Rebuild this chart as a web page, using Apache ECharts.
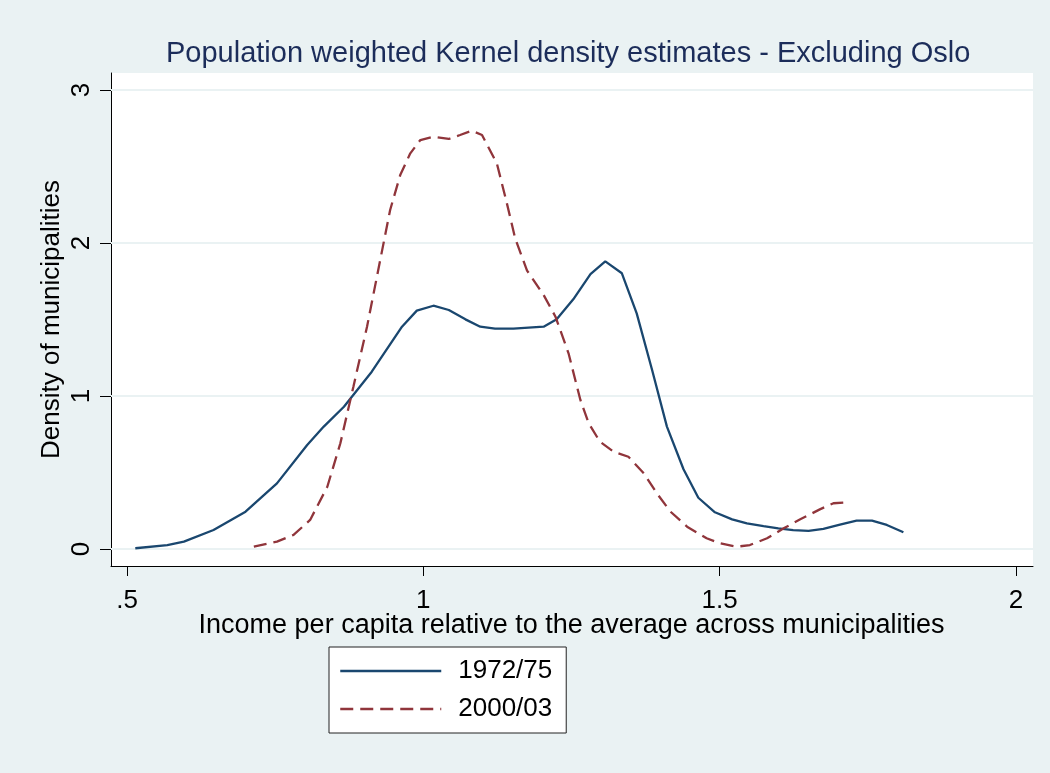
<!DOCTYPE html>
<html>
<head>
<meta charset="utf-8">
<script src="https://cdn.jsdelivr.net/npm/echarts@6/dist/echarts.min.js"></script>
<style>
  html, body { margin: 0; padding: 0; background: #eaf2f3; }
  #chart { width: 1050px; height: 773px; }
</style>
</head>
<body>
<div id="chart"></div>
<script>
// ---- data ----
const titleText = 'Population weighted Kernel density estimates - Excluding Oslo';
const xTitle = 'Income per capita relative to the average across municipalities';
const yTitle = 'Density of municipalities';
const seriesNames = ['1972/75', '2000/03'];

const xTicks = [0.5, 1, 1.5, 2];
const xTickLabels = ['.5', '1', '1.5', '2'];
const yTicks = [0, 1, 2, 3];
const yTickLabels = ['0', '1', '2', '3'];

const x1972 = [0.514,0.568,0.596,0.646,0.700,0.753,0.804,0.832,0.866,0.913,0.964,0.989,1.017,1.043,1.071,1.096,1.121,1.152,1.203,1.225,1.253,1.282,1.307,1.335,1.360,1.386,1.411,1.439,1.464,1.492,1.521,1.546,1.574,1.599,1.624,1.650,1.675,1.703,1.731,1.757,1.782,1.810];
const y1972 = [0.005,0.026,0.048,0.124,0.244,0.429,0.680,0.800,0.930,1.159,1.453,1.558,1.590,1.562,1.501,1.453,1.440,1.440,1.453,1.501,1.632,1.797,1.880,1.802,1.540,1.170,0.800,0.521,0.335,0.240,0.194,0.168,0.150,0.135,0.124,0.118,0.131,0.159,0.185,0.185,0.157,0.109];

const x2000 = [0.714,0.753,0.781,0.809,0.838,0.860,0.882,0.905,0.925,0.944,0.961,0.978,0.995,1.017,1.043,1.062,1.082,1.099,1.124,1.141,1.155,1.175,1.203,1.223,1.245,1.265,1.279,1.298,1.321,1.346,1.372,1.394,1.417,1.445,1.478,1.501,1.529,1.551,1.580,1.608,1.636,1.669,1.692,1.709];
const y2000 = [0.015,0.048,0.092,0.190,0.407,0.691,1.061,1.453,1.845,2.216,2.444,2.586,2.673,2.695,2.680,2.706,2.734,2.706,2.521,2.259,2.030,1.820,1.660,1.518,1.279,0.974,0.822,0.701,0.636,0.603,0.495,0.364,0.244,0.146,0.070,0.037,0.015,0.026,0.070,0.135,0.194,0.259,0.299,0.303];

// ---- layout ----
const W = 1050, H = 773;
const outer = { l: 111, r: 1033, t: 73, b: 566 };   // white plot region
const inner = { l: 127, r: 1016, t: 90, b: 549 };   // tick-aligned data region
const xMin = xTicks[0], xMax = xTicks[xTicks.length - 1];
const yMin = yTicks[0], yMax = yTicks[yTicks.length - 1];
const xPer = (inner.r - inner.l) / (xMax - xMin);
const yPer = (inner.b - inner.t) / (yMax - yMin);
const oxMin = xMin - (inner.l - outer.l) / xPer;
const oxMax = xMax + (outer.r - inner.r) / xPer;
const oyMin = yMin - (outer.b - inner.b) / yPer;
const oyMax = yMax + (inner.t - outer.t) / yPer;

const FONT = '"Liberation Sans", Arial, sans-serif';
const blue = '#1a476f', red = '#90353b';
const axisColor = '#000000';
const dash = [13, 7];

const chart = echarts.init(document.getElementById('chart'), null, { renderer: 'canvas' });

const option = {
  backgroundColor: '#eaf2f3',
  animation: false,
  textStyle: { fontFamily: FONT },
  title: {
    text: titleText,
    left: 166, top: 39,
    padding: 0,
    textStyle: { fontFamily: FONT, fontSize: 29, fontWeight: 'normal', color: '#1c2d5a' }
  },
  legend: {
    orient: 'vertical',
    left: 329, top: 647,
    data: [
      { name: seriesNames[0], itemStyle: { opacity: 0 }, lineStyle: { color: blue, width: 2.5, type: 'solid' } },
      { name: seriesNames[1], itemStyle: { opacity: 0 }, lineStyle: { color: red, width: 2.5, type: dash } }
    ],
    lineStyle: { width: 2.5 },
    backgroundColor: '#ffffff',
    borderColor: '#222222',
    borderWidth: 1,
    padding: [11, 14, 11, 10],
    itemWidth: 101,
    itemHeight: 14,
    itemGap: 12,
    textStyle: { fontFamily: FONT, fontSize: 26, color: '#000', padding: [0, 0, 0, 12] }
  },
  grid: [
    { left: outer.l, right: W - outer.r, top: outer.t, bottom: H - outer.b,
      show: true, backgroundColor: '#ffffff', borderWidth: 0 },
    { left: inner.l, right: W - inner.r, top: inner.t, bottom: H - inner.b,
      show: false }
  ],
  xAxis: [
    { gridIndex: 0, type: 'value', min: oxMin, max: oxMax,
      axisLine: { show: true, onZero: false, lineStyle: { color: axisColor, width: 1 } },
      axisTick: { show: false }, axisLabel: { show: false }, splitLine: { show: false } },
    { gridIndex: 1, type: 'value', min: xMin, max: xMax, interval: 0.5,
      offset: outer.b - inner.b,
      axisLine: { show: false, onZero: false },
      axisTick: { show: true, length: 10, lineStyle: { color: axisColor, width: 1 } },
      axisLabel: { show: true, margin: 22, fontSize: 26, color: '#000', fontFamily: FONT,
        formatter: v => { const i = xTicks.findIndex(t => Math.abs(t - v) < 1e-9); return i >= 0 ? xTickLabels[i] : ''; } },
      splitLine: { show: false },
      name: xTitle, nameLocation: 'middle', nameGap: 46, nameMoveOverlap: false,
      nameTextStyle: { fontSize: 27, color: '#000', fontFamily: FONT } }
  ],
  yAxis: [
    { gridIndex: 0, type: 'value', min: oyMin, max: oyMax,
      axisLine: { show: true, onZero: false, lineStyle: { color: axisColor, width: 1 } },
      axisTick: { show: false }, axisLabel: { show: false }, splitLine: { show: false } },
    { gridIndex: 1, type: 'value', min: yMin, max: yMax, interval: 1,
      offset: inner.l - outer.l,
      axisLine: { show: false, onZero: false },
      axisTick: { show: true, length: 11, lineStyle: { color: axisColor, width: 1 } },
      axisLabel: { show: true, rotate: 90, margin: 16, fontSize: 26, color: '#000', fontFamily: FONT,
        formatter: v => { const i = yTicks.findIndex(t => Math.abs(t - v) < 1e-9); return i >= 0 ? yTickLabels[i] : ''; } },
      splitLine: { show: false },
      name: yTitle, nameLocation: 'middle', nameGap: 46, nameMoveOverlap: false,
      nameTextStyle: { fontSize: 26, color: '#000', fontFamily: FONT } }
  ],
  series: [
    { type: 'line', xAxisIndex: 0, yAxisIndex: 0, data: [], silent: true, z: 1,
      markLine: { silent: true, symbol: 'none', animation: false,
        label: { show: false },
        lineStyle: { color: '#eaf2f3', width: 2, type: 'solid' },
        emphasis: { disabled: true },
        data: yTicks.map(v => ({ yAxis: v })) } },
    { name: seriesNames[0], type: 'line', xAxisIndex: 1, yAxisIndex: 1, z: 5,
      data: x1972.map((x, i) => [x, y1972[i]]),
      showSymbol: false, symbol: 'none', smooth: false,
      lineStyle: { color: blue, width: 2.3, type: 'solid' },
      itemStyle: { color: blue } },
    { name: seriesNames[1], type: 'line', xAxisIndex: 1, yAxisIndex: 1, z: 5,
      data: x2000.map((x, i) => [x, y2000[i]]),
      showSymbol: false, symbol: 'none', smooth: false,
      lineStyle: { color: red, width: 2.3, type: dash },
      itemStyle: { color: red } }
  ]
};
chart.setOption(option);
</script>
</body>
</html>
